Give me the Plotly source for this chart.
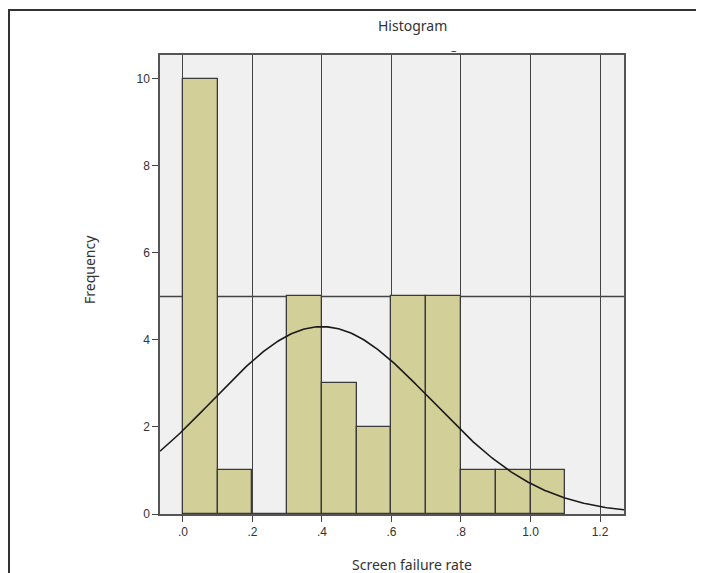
import numpy as np
import plotly.graph_objects as go

# Data
bin_starts = [0.0, 0.1, 0.2, 0.3, 0.4, 0.5, 0.6, 0.7, 0.8, 0.9, 1.0]
counts = [10, 1, 0, 5, 3, 2, 5, 5, 1, 1, 1]
bin_width = 0.1
fit_mean = 0.40
fit_sd = 0.315
n_total = sum(counts)
x_tick_vals = [0.0, 0.2, 0.4, 0.6, 0.8, 1.0, 1.2]
x_tick_text = [".0", ".2", ".4", ".6", ".8", "1.0", "1.2"]
y_tick_vals = [0, 2, 4, 6, 8, 10]

OFF = 8  # page body margin
W, H = 704 - OFF, 573 - OFF
L, R, T, B = 160, 624, 55, 514  # target window pixel positions of plot area

def px(x):
    return (x - L) / (R - L)

def py(y):
    return (B - y) / (B - T)

centers = [s + bin_width / 2 for s in bin_starts]

xr = [-0.066, 1.269]
xs = np.linspace(xr[0], xr[1], 300)
ys = n_total * bin_width / (fit_sd * np.sqrt(2 * np.pi)) * np.exp(-0.5 * ((xs - fit_mean) / fit_sd) ** 2)

fig = go.Figure()
fig.add_trace(go.Bar(
    x=centers, y=counts, width=bin_width,
    marker=dict(color="#D3CF98", line=dict(color="#3a3a3a", width=1.3)),
    hoverinfo="skip",
))
fig.add_trace(go.Scatter(
    x=xs, y=ys, mode="lines",
    line=dict(color="#1a1a1a", width=1.6),
    hoverinfo="skip",
))

line_col = "#444444"
txt = dict(showarrow=False, xref="paper", yref="paper", xanchor="center", yanchor="middle")
fig.update_layout(
    width=W, height=H,
    margin=dict(l=L - OFF, r=704 - R, t=T - OFF, b=573 - B),
    paper_bgcolor="white",
    plot_bgcolor="#F0F0F0",
    showlegend=False,
    bargap=0,
    xaxis=dict(
        range=xr, tickvals=x_tick_vals, ticktext=x_tick_text,
        showgrid=True, gridcolor=line_col, gridwidth=1.4,
        zeroline=False, showline=True, mirror=True, linecolor="#555555", linewidth=1.5,
        ticks="outside", ticklen=6, tickcolor=line_col, tickwidth=1.4,
        tickfont=dict(family="Liberation Sans, Arial", size=12, color="#333333"),
    ),
    yaxis=dict(
        range=[0, 10.55], tickvals=y_tick_vals,
        showgrid=False, zeroline=False, showline=True, mirror=True,
        linecolor="#555555", linewidth=1.5,
        ticks="outside", ticklen=6, tickcolor=line_col, tickwidth=1.4,
        tickfont=dict(family="Liberation Sans, Arial", size=12, color="#333333"),
    ),
    shapes=[
        dict(type="line", xref="paper", yref="y", x0=0, x1=1, y0=5, y1=5,
             line=dict(color=line_col, width=1.4), layer="below"),
        dict(type="rect", xref="paper", yref="paper",
             x0=px(9), x1=px(699), y0=py(10), y1=py(600),
             line=dict(color="#333333", width=2)),
    ],
    annotations=[
        dict(text="Histogram", x=px(412), y=py(25),
             font=dict(family="Noto Sans", size=14, color="#333333"), **txt),
        dict(text="–", x=px(454), y=py(49),
             font=dict(family="Noto Sans", size=11, color="#333333"), **txt),
        dict(text="Screen failure rate", x=px(412), y=py(564),
             font=dict(family="Noto Sans", size=14, color="#333333"), **txt),
        dict(text="Frequency", x=px(89), y=py(270), textangle=-90,
             font=dict(family="Noto Sans", size=14, color="#333333"), **txt),
    ],
)

fig.write_html("out.html")
